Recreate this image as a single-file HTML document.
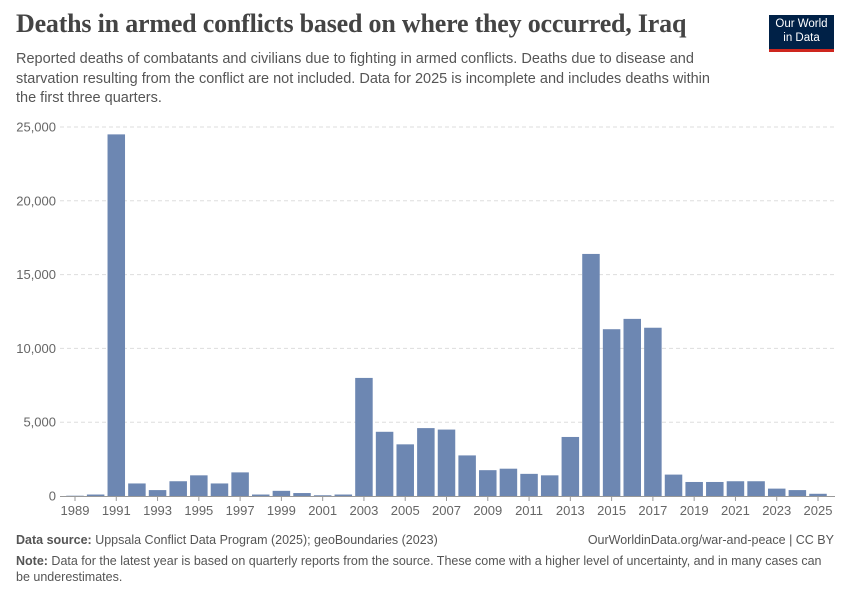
<!DOCTYPE html>
<html><head><meta charset="utf-8">
<style>
body{margin:0;background:#fff;font-family:"Liberation Sans",sans-serif;}
#wrap{position:relative;width:850px;height:600px;overflow:hidden;}
h1{position:absolute;left:16px;top:9px;margin:0;font-family:"Liberation Serif",serif;font-size:26px;font-weight:bold;color:#444;letter-spacing:-0.2px}
.sub{position:absolute;left:16px;top:50px;width:712px;font-size:14.5px;line-height:19.5px;color:#555}
.logo{position:absolute;left:769px;top:15px;width:65px;height:37px;background:#002147;color:#fff;font-size:11.5px;line-height:14px;text-align:center;padding-top:2px;box-sizing:border-box;border-bottom:3px solid #ce261e}
.foot{position:absolute;left:16px;font-size:12.5px;color:#555}
</style></head><body>
<div id="wrap">
<h1>Deaths in armed conflicts based on where they occurred, Iraq</h1>
<div class="sub">Reported deaths of combatants and civilians due to fighting in armed conflicts. Deaths due to disease and starvation resulting from the conflict are not included. Data for 2025 is incomplete and includes deaths within the first three quarters.</div>
<div class="logo">Our World<br>in Data</div>
<svg id="chart" width="850" height="600" style="position:absolute;left:0;top:0"></svg>
<div class="foot" style="top:533px"><b>Data source:</b> Uppsala Conflict Data Program (2025); geoBoundaries (2023)</div>
<div class="foot" style="top:533px;left:auto;right:16px">OurWorldinData.org/war-and-peace | CC BY</div>
<div class="foot" style="top:553px;width:810px;line-height:16px"><b>Note:</b> Data for the latest year is based on quarterly reports from the source. These come with a higher level of uncertainty, and in many cases can be underestimates.</div>
</div>
<script>
const years=[1989,1990,1991,1992,1993,1994,1995,1996,1997,1998,1999,2000,2001,2002,2003,2004,2005,2006,2007,2008,2009,2010,2011,2012,2013,2014,2015,2016,2017,2018,2019,2020,2021,2022,2023,2024,2025];
const deaths=[20,100,24500,850,400,1000,1400,850,1600,100,350,200,50,100,8000,4350,3500,4600,4500,2750,1750,1850,1500,1400,4000,16400,11300,12000,11400,1450,950,950,1000,1000,500,400,150];
const yTicks=[0,5000,10000,15000,20000,25000];
const xTickYears=[1989,1991,1993,1995,1997,1999,2001,2003,2005,2007,2009,2011,2013,2015,2017,2019,2021,2023,2025];
const NS="http://www.w3.org/2000/svg";
const svg=document.getElementById('chart');
const y0=496,yTop=127,x0=75,x1=818;
const y=v=>y0-(v/25000)*(y0-yTop);
const x=yr=>x0+(yr-1989)*(x1-x0)/36;
const bw=17.5;
function mk(t,a){const e=document.createElementNS(NS,t);for(const k in a)e.setAttribute(k,a[k]);svg.appendChild(e);return e;}
yTicks.forEach(v=>{
  if(v>0){const l=mk('line',{x1:60,x2:835,y1:y(v),y2:y(v),stroke:'#ddd','stroke-dasharray':'4,3'});
  
  }
  const t=mk('text',{x:56,y:y(v)+4.5,'text-anchor':'end','font-size':'13',fill:'#666','font-family':'Liberation Sans,sans-serif'});
  t.textContent=v.toLocaleString('en-US');
  
  
});
years.forEach((yr,i)=>{
  const r=mk('rect',{x:x(yr)-bw/2,y:y(deaths[i]),width:bw,height:y0-y(deaths[i]),fill:'#6d87b2'});
  
  
});
const ax=mk('line',{x1:60,x2:835,y1:y0+0.5,y2:y0+0.5,stroke:'#999'});


xTickYears.forEach(yr=>{
  const tk=mk('line',{x1:x(yr),x2:x(yr),y1:y0,y2:y0+5,stroke:'#999'});
  
  
  const t=mk('text',{x:x(yr),y:515,'text-anchor':'middle','font-size':'13',fill:'#666','font-family':'Liberation Sans,sans-serif'});
  t.textContent=yr;
  
  
});
</script>
</body></html>
